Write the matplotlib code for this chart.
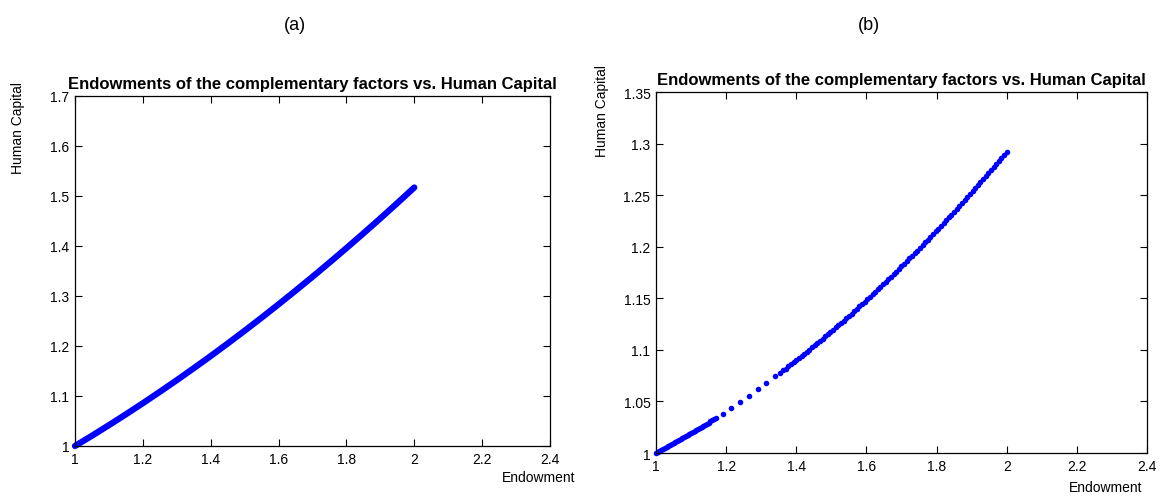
import matplotlib
matplotlib.use("Agg")
import matplotlib.pyplot as plt

plt.rcParams['font.family'] = ['Liberation Sans', 'DejaVu Sans']

# panel (a): endowment vs human capital
xa = [1.00, 1.05, 1.10, 1.15, 1.20, 1.25, 1.30, 1.35, 1.40, 1.45, 1.50,
      1.55, 1.60, 1.65, 1.70, 1.75, 1.80, 1.85, 1.90, 1.95, 2.00]
ya = [1.0000, 1.0205, 1.0416, 1.0633, 1.0855, 1.1083, 1.1316, 1.1555, 1.1799, 1.2049, 1.2305,
      1.2566, 1.2833, 1.3106, 1.3384, 1.3668, 1.3957, 1.4252, 1.4552, 1.4858, 1.5170]

# panel (b): dense dots near 1, a sparse stretch, then dense again up to 2
xb_low = [1.000, 1.005, 1.010, 1.015, 1.020, 1.025, 1.030, 1.035, 1.040, 1.045, 1.050,
          1.055, 1.060, 1.065, 1.070, 1.075, 1.080, 1.085, 1.090, 1.095, 1.100, 1.105,
          1.110, 1.115, 1.120, 1.125, 1.130, 1.135, 1.140, 1.145, 1.150, 1.155, 1.160,
          1.165, 1.170]
yb_low = [1.0000, 1.0009, 1.0018, 1.0027, 1.0036, 1.0046, 1.0055, 1.0064, 1.0074, 1.0083, 1.0093,
          1.0102, 1.0112, 1.0122, 1.0132, 1.0141, 1.0151, 1.0161, 1.0171, 1.0181, 1.0191, 1.0201,
          1.0212, 1.0222, 1.0232, 1.0243, 1.0253, 1.0263, 1.0274, 1.0285, 1.0295, 1.0306, 1.0317,
          1.0328, 1.0338]

xb_mid = [1.190, 1.215, 1.240, 1.265, 1.290, 1.315, 1.340]
yb_mid = [1.0382, 1.0439, 1.0497, 1.0556, 1.0616, 1.0678, 1.0742]

xb_high = [1.355, 1.3625, 1.370, 1.3775, 1.385, 1.3925, 1.400, 1.4075, 1.415, 1.4225,
           1.430, 1.4375, 1.445, 1.4525, 1.460, 1.4675, 1.475, 1.4825, 1.490, 1.4975,
           1.505, 1.5125, 1.520, 1.5275, 1.535, 1.5425, 1.550, 1.5575, 1.565, 1.5725,
           1.580, 1.5875, 1.595, 1.6025, 1.610, 1.6175, 1.625, 1.6325, 1.640, 1.6475,
           1.655, 1.6625, 1.670, 1.6775, 1.685, 1.6925, 1.700, 1.7075, 1.715, 1.7225,
           1.730, 1.7375, 1.745, 1.7525, 1.760, 1.7675, 1.775, 1.7825, 1.790, 1.7975,
           1.805, 1.8125, 1.820, 1.8275, 1.835, 1.8425, 1.850, 1.8575, 1.865, 1.8725,
           1.880, 1.8875, 1.895, 1.9025, 1.910, 1.9175, 1.925, 1.9325, 1.940, 1.9475,
           1.955, 1.9625, 1.970, 1.9775, 1.985, 1.9925, 2.000]
yb_high = [1.0780, 1.0800, 1.0819, 1.0839, 1.0859, 1.0879, 1.0899, 1.0920, 1.0940, 1.0961,
           1.0981, 1.1002, 1.1023, 1.1044, 1.1065, 1.1087, 1.1108, 1.1130, 1.1151, 1.1173,
           1.1195, 1.1217, 1.1239, 1.1262, 1.1284, 1.1307, 1.1329, 1.1352, 1.1375, 1.1398,
           1.1421, 1.1445, 1.1468, 1.1492, 1.1515, 1.1539, 1.1563, 1.1587, 1.1611, 1.1636,
           1.1660, 1.1685, 1.1709, 1.1734, 1.1759, 1.1784, 1.1809, 1.1835, 1.1860, 1.1886,
           1.1911, 1.1937, 1.1963, 1.1989, 1.2015, 1.2042, 1.2068, 1.2095, 1.2121, 1.2148,
           1.2175, 1.2202, 1.2229, 1.2257, 1.2284, 1.2312, 1.2339, 1.2367, 1.2395, 1.2423,
           1.2451, 1.2480, 1.2508, 1.2537, 1.2566, 1.2595, 1.2623, 1.2653, 1.2682, 1.2711,
           1.2740, 1.2770, 1.2800, 1.2830, 1.2860, 1.2890, 1.2920]

xticks = [1, 1.2, 1.4, 1.6, 1.8, 2, 2.2, 2.4]
xticklabels = ['1', '1.2', '1.4', '1.6', '1.8', '2', '2.2', '2.4']
yticks_a = [1, 1.1, 1.2, 1.3, 1.4, 1.5, 1.6, 1.7]
yticklabels_a = ['1', '1.1', '1.2', '1.3', '1.4', '1.5', '1.6', '1.7']
yticks_b = [1, 1.05, 1.1, 1.15, 1.2, 1.25, 1.3, 1.35]
yticklabels_b = ['1', '1.05', '1.1', '1.15', '1.2', '1.25', '1.3', '1.35']

title = 'Endowments of the complementary factors vs. Human Capital'

fig = plt.figure(figsize=(11.66, 5.02), dpi=100)
axa = fig.add_axes([0.0643, 0.1096, 0.4074, 0.6972])
axb = fig.add_axes([0.5626, 0.0956, 0.4211, 0.7191])


def style(ax, yticks, yticklabels, ylim):
    ax.set_xlim(1, 2.4)
    ax.set_ylim(*ylim)
    ax.set_xticks(xticks)
    ax.set_xticklabels(xticklabels)
    ax.set_yticks(yticks)
    ax.set_yticklabels(yticklabels)
    ax.tick_params(direction='in', top=True, right=True, length=5, width=0.8,
                   labelsize=10, pad=4)
    for s in ax.spines.values():
        s.set_linewidth(0.9)
    ax.set_title(title, fontsize=12, fontweight='bold', pad=6)


axa.plot(xa, ya, '-', color='#0000ff', lw=4.5, solid_capstyle='round', clip_on=False)
style(axa, yticks_a, yticklabels_a, (1, 1.7))
axa.text(-0.12, 0.91, 'Human Capital', transform=axa.transAxes, rotation=90,
         ha='center', va='center', fontsize=10)
axa.text(0.975, -0.09, 'Endowment', transform=axa.transAxes, ha='center', va='center',
         fontsize=10)

for xs, ys in [(xb_low, yb_low), (xb_mid, yb_mid), (xb_high, yb_high)]:
    axb.plot(xs, ys, 'o', color='#0000ff', ms=4, mec='none', clip_on=False)
style(axb, yticks_b, yticklabels_b, (1, 1.35))
axb.text(-0.109, 0.95, 'Human Capital', transform=axb.transAxes, rotation=90,
         ha='center', va='center', fontsize=10)
axb.text(0.915, -0.095, 'Endowment', transform=axb.transAxes, ha='center', va='center',
         fontsize=10)

fig.text(0.253, 0.95, '(a)', ha='center', va='center', fontsize=13)
fig.text(0.745, 0.95, '(b)', ha='center', va='center', fontsize=13)

fig.savefig('out.png', dpi=100)
